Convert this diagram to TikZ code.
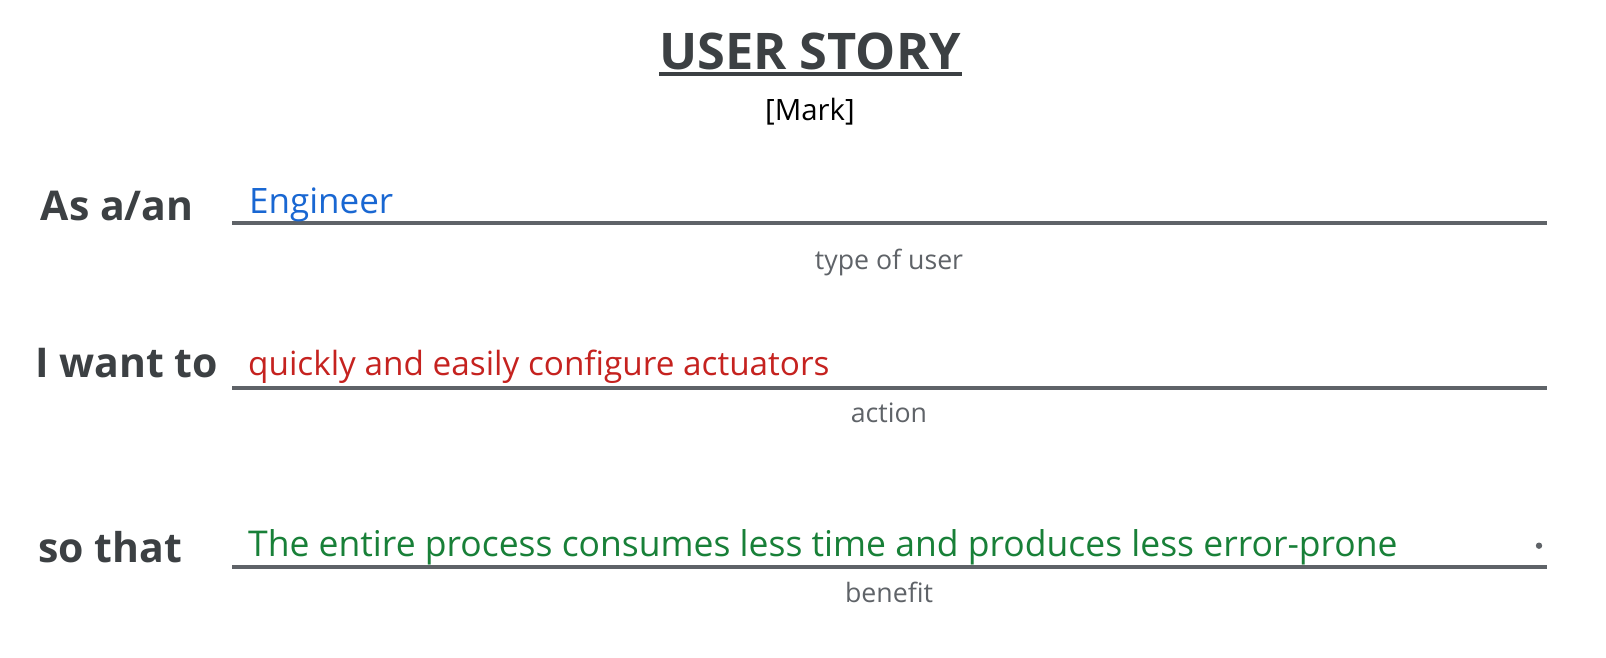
\documentclass[tikz,border=0pt]{standalone}
\usepackage{fontspec}
\setmainfont{Open Sans}
\definecolor{ink}{HTML}{3C4043}
\definecolor{rule}{HTML}{5F6368}
\definecolor{gblue}{HTML}{1967D2}
\definecolor{gred}{HTML}{C5221F}
\definecolor{ggreen}{HTML}{188038}
\begin{document}
\begin{tikzpicture}[x=1pt,y=1pt,
  lbl/.style={anchor=base west,inner sep=0,text=ink,font=\fontsize{41}{48}\selectfont\bfseries},
  entry/.style={anchor=base west,inner sep=0},
  sub/.style={anchor=base,inner sep=0,text=rule,font=\fontsize{26.7}{30}\selectfont},
  ln/.style={draw=rule,line width=3.5pt}]
\useasboundingbox (0,0) rectangle (1606,657);
% title
\node[anchor=base,inner sep=0,text=ink,font=\fontsize{50.5}{58}\selectfont\bfseries] (title) at (810,587) {USER STORY};
\draw[ink,line width=4pt] (659,582.5) coordinate (tl) -- (962,582.5) coordinate (tr);
\node[anchor=base,inner sep=0,font=\fontsize{29.4}{34}\selectfont] (mark) at (810,536) {[Mark]};
% row 1
\node[lbl] (l1) at (40.7,436) {As a/an};
\coordinate (a1) at (232,434);
\coordinate (b1) at (1547,434);
\draw[ln] (a1) -- (b1);
\node[entry,text=gblue,font=\fontsize{35}{40}\selectfont] (e1) at (249,443.7) {Engineer};
\node[sub] (s1) at (889,387.7) {type of user};
% row 2
\node[lbl] (l2) at (35,279.3) {I want to};
\coordinate (a2) at (232,269);
\coordinate (b2) at (1547,269);
\draw[ln] (a2) -- (b2);
\node[entry,text=gred,font=\fontsize{33.3}{40}\selectfont] (e2) at (248,281.3) {quickly and easily configure actuators};
\node[sub] (s2) at (889,234.3) {action};
% row 3
\node[lbl] (l3) at (38.3,95) {so that};
\coordinate (a3) at (232,90);
\coordinate (b3) at (1547,90);
\draw[ln] (a3) -- (b3);
\node[entry,text=ggreen,font=\fontsize{35.5}{40}\selectfont] (e3) at (248,101) {The entire process consumes less time and produces less error-prone};
\node[sub] (s3) at (889,54.7) {benefit};
\fill[rule] (1539,111.3) circle (3.2);
\end{tikzpicture}
\end{document}
